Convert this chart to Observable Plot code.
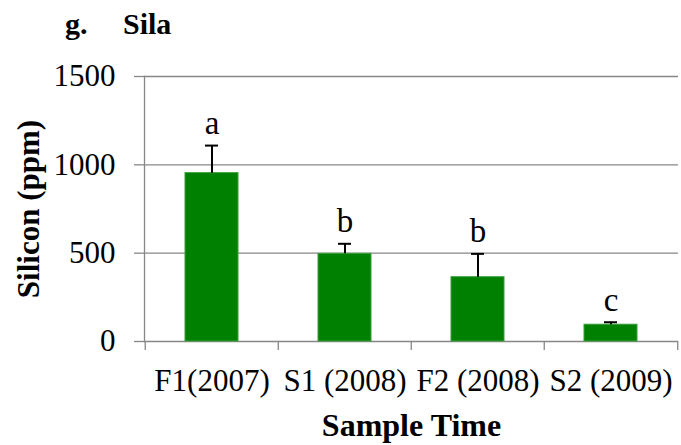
<!DOCTYPE html>
<html>
<head>
<meta charset="utf-8">
<script src="https://cdn.jsdelivr.net/npm/d3@7"></script>
<script src="https://cdn.jsdelivr.net/npm/@observablehq/plot@0.6"></script>
<style>
  body { margin: 0; background: #fff; }
  #chart { position: relative; width: 681px; height: 445px; font-family: 'Liberation Serif', serif; }
  .title { position: absolute; top: 9px; font-weight: bold; font-size: 30px; line-height: 1; color: #000; }
  #plot { position: absolute; left: 0; top: 48px; }
</style>
</head>
<body>
<div id="chart">
  <span class="title" style="left:65px">g.</span>
  <span class="title" style="left:123px">Sila</span>
  <div id="plot"></div>
</div>
<script>
// Silicon concentration by sampling time (mean with upper standard error)
const categories = ["F1(2007)", "S1 (2008)", "F2 (2008)", "S2 (2009)"];
const means = [953, 496, 364, 95];
const errors = [156, 57, 132, 14];
const letters = ["a", "b", "b", "c"];
const yTicks = [0, 500, 1000, 1500];

const rows = categories.map((c, i) => ({
  category: c, mean: means[i], upper: means[i] + errors[i], letter: letters[i]
}));

const serif = "Liberation Serif";
const width = 681, height = 397;
const marginLeft = 144, marginRight = 3, marginTop = 28, marginBottom = 104;
const step = (width - marginLeft - marginRight) / categories.length;
const gridColor = "#878787";

const chart = Plot.plot({
  width, height, marginLeft, marginRight, marginTop, marginBottom,
  style: { fontFamily: serif, fontSize: "31px", color: "#000", background: "transparent" },
  x: { domain: categories, paddingInner: 0.6, paddingOuter: 0.3, axis: null },
  y: { domain: [0, 1500], axis: null },
  marks: [
    // horizontal gridlines
    Plot.ruleY(yTicks, { stroke: gridColor, strokeWidth: 1.3 }),
    // left axis line
    Plot.frame({ anchor: "left", stroke: gridColor, strokeWidth: 1.3 }),
    Plot.axisY({ ticks: yTicks, tickFormat: d3.format("d"), tickSize: 10, tickPadding: 19, stroke: gridColor, strokeWidth: 1.3, fontSize: 31, fontFamily: serif, label: null }),
    // category boundary ticks below the baseline
    Plot.ruleX(categories, { x: d => d, y1: 0, y2: 0, dx: -step / 2, insetBottom: -9, stroke: gridColor, strokeWidth: 1.3 }),
    Plot.ruleX(categories.slice(-1), { x: d => d, y1: 0, y2: 0, dx: step / 2, insetBottom: -9, stroke: gridColor, strokeWidth: 1.3 }),
    Plot.axisX({ tickSize: 0, tickPadding: 27, fontSize: 31, fontFamily: serif, label: null }),
    // bars
    Plot.barY(rows, { x: "category", y: "mean", fill: "#008000", stroke: "#3a9e3a", strokeWidth: 1 }),
    // error bars (upper only)
    Plot.ruleX(rows, { x: "category", y1: "mean", y2: "upper", stroke: "#000", strokeWidth: 2 }),
    Plot.tickY(rows, { x: "category", y: "upper", inset: 20, stroke: "#000", strokeWidth: 2 }),
    // significance letters
    Plot.text(rows, { x: "category", y: "upper", text: "letter", dy: -22, fontSize: 33, fontFamily: serif, fill: "#000" }),
    // axis titles
    Plot.text(["Silicon (ppm)"], { text: d => d, frameAnchor: "left", textAnchor: "middle", dx: -115, rotate: -90, fontSize: 31, fontWeight: "bold", fontFamily: serif, fill: "#000" }),
    Plot.text(["Sample Time"], { text: d => d, frameAnchor: "bottom", dy: 72, lineAnchor: "top", fontSize: 32, fontWeight: "bold", fontFamily: serif, fill: "#000" })
  ]
});

document.getElementById("plot").appendChild(chart);
</script>
</body>
</html>
